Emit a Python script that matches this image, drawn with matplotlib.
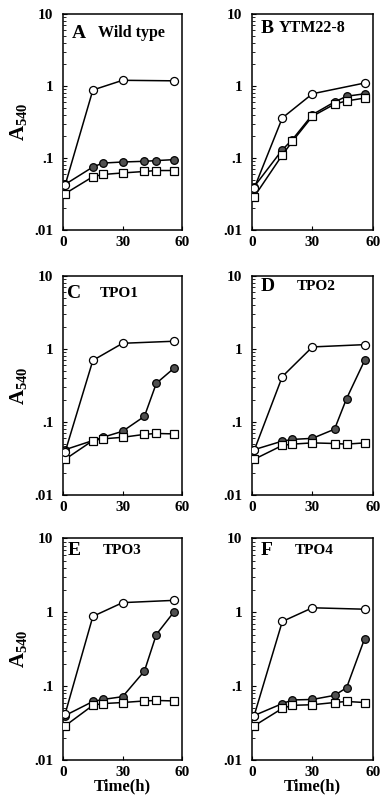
import numpy as np
import matplotlib
matplotlib.use("Agg")
import matplotlib.pyplot as plt
from matplotlib.ticker import FixedLocator, FixedFormatter, LogLocator, NullFormatter

plt.rcParams['font.family'] = ['Liberation Serif', 'DejaVu Serif']
plt.rcParams['font.weight'] = 'bold'
plt.rcParams['mathtext.fontset'] = 'custom'
plt.rcParams['mathtext.rm'] = 'Liberation Serif:bold'
plt.rcParams['mathtext.it'] = 'Liberation Serif:bold'
plt.rcParams['mathtext.bf'] = 'Liberation Serif:bold'

# ---------- Данные ----------
t_open = [1, 15, 30, 56]
t_full = [1, 15, 20, 30, 41, 47, 56]

letters = ['A', 'B', 'C', 'D', 'E', 'F']
strains = ['Wild type', 'YTM22-8', 'TPO1', 'TPO2', 'TPO3', 'TPO4']

open_A = [0.042, 0.88, 1.2, 1.18]
filled_A = [0.043, 0.075, 0.085, 0.088, 0.09, 0.092, 0.095]
square_A = [0.032, 0.055, 0.059, 0.062, 0.065, 0.067, 0.067]

open_B = [0.038, 0.36, 0.78, 1.1]
filled_B = [0.04, 0.13, 0.18, 0.4, 0.6, 0.72, 0.78]
square_B = [0.029, 0.11, 0.17, 0.38, 0.56, 0.62, 0.68]

open_C = [0.039, 0.7, 1.2, 1.28]
filled_C = [0.042, 0.056, 0.062, 0.075, 0.12, 0.34, 0.55]
square_C = [0.031, 0.056, 0.059, 0.062, 0.068, 0.07, 0.069]

open_D = [0.041, 0.42, 1.07, 1.15]
filled_D = [0.042, 0.055, 0.058, 0.06, 0.08, 0.21, 0.7]
square_D = [0.031, 0.048, 0.05, 0.052, 0.051, 0.05, 0.052]

open_E = [0.042, 0.88, 1.35, 1.45]
filled_E = [0.04, 0.062, 0.066, 0.072, 0.16, 0.5, 1.02]
square_E = [0.029, 0.055, 0.058, 0.06, 0.063, 0.064, 0.063]

open_F = [0.04, 0.75, 1.15, 1.1]
filled_F = [0.04, 0.058, 0.065, 0.066, 0.075, 0.095, 0.44]
square_F = [0.029, 0.05, 0.055, 0.056, 0.06, 0.062, 0.06]

opens = [open_A, open_B, open_C, open_D, open_E, open_F]
filleds = [filled_A, filled_B, filled_C, filled_D, filled_E, filled_F]
squares = [square_A, square_B, square_C, square_D, square_E, square_F]

# ---------- Рисунок ----------
fig = plt.figure(figsize=(3.85, 8.0), dpi=100)

# позиции осей (доли рисунка)
lefts = [0.164, 0.655]
widths = [0.309, 0.313]
bottoms = [0.7125, 0.381, 0.05]
heights = [0.27, 0.274, 0.277]

# положение подписей панелей (доли осей)
letter_x = [0.075, 0.07, 0.03, 0.07, 0.04, 0.07]
name_x = [0.29, 0.22, 0.31, 0.37, 0.33, 0.35]
label_y = [0.91, 0.935, 0.92, 0.95, 0.945, 0.945]
name_size = [11.5, 11.5, 11, 11, 11, 11]

for i in range(6):
    row, col = divmod(i, 2)
    ax = fig.add_axes([lefts[col], bottoms[row], widths[col], heights[row]])

    ax.plot(t_full, filleds[i], '-', color='black', lw=1.1, marker='o', ms=5.5,
            mfc='#505050', mec='black', mew=0.9, zorder=3)
    ax.plot(t_full, squares[i], '-', color='black', lw=1.1, marker='s', ms=5.8,
            mfc='white', mec='black', mew=0.9, zorder=4)
    ax.plot(t_open, opens[i], '-', color='black', lw=1.1, marker='o', ms=5.8,
            mfc='white', mec='black', mew=0.9, zorder=5)

    ax.set_yscale('log')
    ax.set_ylim(0.01, 10)
    ax.set_xlim(0, 60)
    ax.yaxis.set_major_locator(FixedLocator([0.01, 0.1, 1, 10]))
    ax.yaxis.set_major_formatter(FixedFormatter(['.01', '.1', '1', '10']))
    ax.yaxis.set_minor_locator(LogLocator(base=10, subs=np.arange(2, 10)))
    ax.yaxis.set_minor_formatter(NullFormatter())
    ax.set_xticks([0, 30, 60])
    ax.set_xticklabels(['0', '30', '60'])

    ax.tick_params(axis='both', which='major', direction='in', length=3, width=0.8,
                   labelsize=11, pad=7)
    ax.tick_params(axis='y', which='minor', direction='in', length=2, width=0.6)
    ax.tick_params(axis='x', pad=4)
    for lab in ax.get_xticklabels() + ax.get_yticklabels():
        lab.set_fontweight('bold')
    for s in ax.spines.values():
        s.set_linewidth(1.1)

    ax.text(letter_x[i], label_y[i], letters[i], transform=ax.transAxes, fontsize=14,
            fontweight='bold', va='center', ha='left')
    ax.text(name_x[i], label_y[i], strains[i], transform=ax.transAxes,
            fontsize=name_size[i], fontweight='bold', va='center', ha='left')

    if col == 0:
        ax.set_ylabel(r'A$_{540}$', fontsize=15, fontweight='bold', labelpad=4)
    if row == 2:
        ax.set_xlabel('Time(h)', fontsize=12, fontweight='bold', labelpad=0)

fig.savefig('out.png', dpi=100)
